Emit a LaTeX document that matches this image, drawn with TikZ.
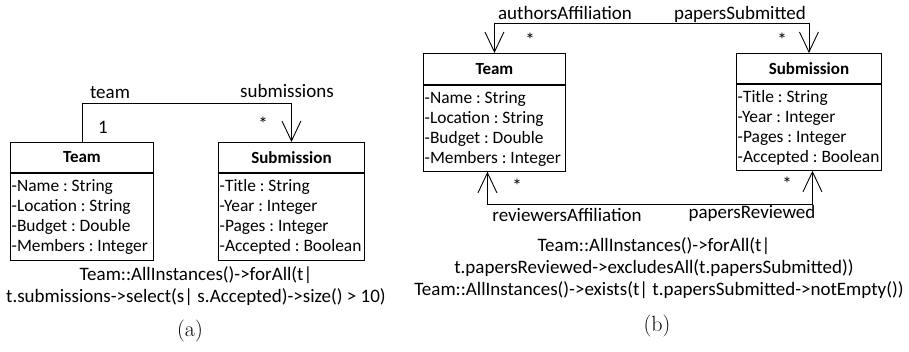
\documentclass[tikz,border=0pt]{standalone}
\usepackage{fontspec}
\newfontfamily\uml{Carlito}
\frenchspacing
\usetikzlibrary{arrows.meta,positioning}
\tikzset{
  umltext/.style={font=\uml\fontsize{19}{22}\selectfont},
  classhead/.style={draw, line width=0.9pt, anchor=north west, inner sep=0pt,
    font=\uml\bfseries\fontsize{17}{20}\selectfont},
  classbody/.style={draw, line width=0.9pt, anchor=north, inner sep=0pt},
  attrs/.style={anchor=north west, inner sep=0pt, align=left,
    font=\uml\fontsize{17.4}{20}\selectfont},
  assoc/.style={line width=0.9pt},
  nav/.style={-{Straight Barb[length=20pt,width=19pt]}},
  bothnav/.style={{Straight Barb[length=20pt,width=19pt]}-{Straight Barb[length=20pt,width=19pt]}},
  lbl/.style={umltext, inner sep=0pt},
  ocl/.style={umltext, inner sep=0pt, align=center},
  caption/.style={font=\fontsize{22}{26}\selectfont, inner sep=0pt}
}
\begin{document}
\begin{tikzpicture}[x=1pt,y=-1pt]
\useasboundingbox (0,0) rectangle (909,351);

% ---------- (a) ----------
\node[classhead, minimum width=143pt, minimum height=30pt] (teamA) at (10,142) {Team};
\node[classbody, below=0pt of teamA.south, minimum width=143pt, minimum height=87pt] (teamAbody) {};
\node[attrs] (teamAattr) at ([xshift=1.5pt,yshift=-4pt]teamAbody.north west)
  {\strut-Name : String\\-Location : String\\-Budget : Double\\-Members : Integer};
\node[classhead, minimum width=146pt, minimum height=30pt] (subA) at (218,142) {Submission};
\node[classbody, below=0pt of subA.south, minimum width=146pt, minimum height=87pt] (subAbody) {};
\node[attrs] (subAattr) at ([xshift=1.5pt,yshift=-4pt]subAbody.north west)
  {\strut-Title : String\\-Year : Integer\\-Pages : Integer\\-Accepted : Boolean};

\coordinate (rowA) at (0,103);
\draw[assoc, nav] (teamA.north) -- (teamA.north |- rowA) -| (subA.north);
\node[lbl] (teamRole) at (110,93) {team};
\node[lbl] (subRole) at (287,91) {submissions};
\node[lbl] (mulA1) at (103,127) {1};
\node[lbl] (mulA2) at (263,124) {*};

\node[ocl] (oclA) at (196,286) {Team::AllInstances()->forAll(t|\\t.submissions->select(s| s.Accepted)->size() > 10)};
\node[caption] (capA) at (190,331) {(a)};

% ---------- (b) ----------
\node[classhead, minimum width=142pt, minimum height=31pt] (teamB) at (423,53) {Team};
\node[classbody, below=0pt of teamB.south, minimum width=142pt, minimum height=86pt] (teamBbody) {};
\node[attrs] (teamBattr) at ([xshift=1.5pt,yshift=-4pt]teamBbody.north west)
  {\strut-Name : String\\-Location : String\\-Budget : Double\\-Members : Integer};
\node[classhead, minimum width=145pt, minimum height=30pt] (subB) at (736,53) {Submission};
\node[classbody, below=0pt of subB.south, minimum width=145pt, minimum height=86pt] (subBbody) {};
\node[attrs] (subBattr) at ([xshift=1.5pt,yshift=-4pt]subBbody.north west)
  {\strut-Title : String\\-Year : Integer\\-Pages : Integer\\-Accepted : Boolean};

% authorship association (top)
\coordinate (rowTop) at (0,23);
\draw[assoc, bothnav] (teamB.north) -- (teamB.north |- rowTop) -| (subB.north);
\node[lbl] (authRole) at (565,13) {authorsAffiliation};
\node[lbl] (papSubRole) at (740,14) {papersSubmitted};
\node[lbl] (mulB1) at (530,40) {*};
\node[lbl] (mulB2) at (782,40) {*};

% reviewing association (bottom)
\coordinate (tBot) at ([xshift=-7pt]teamBbody.south);
\coordinate (sBot) at ([xshift=3.5pt]subBbody.south);
\coordinate (rowBot) at (0,204);
\draw[assoc, bothnav] (tBot) -- (tBot |- rowBot) -| (sBot);
\node[lbl] (revRole) at (567,215) {reviewersAffiliation};
\node[lbl] (papRevRole) at (752,213) {papersReviewed};
\node[lbl] (mulB3) at (517,186) {*};
\node[lbl] (mulB4) at (787,184) {*};

\node[ocl] (oclB1) at (654,257.5) {Team::AllInstances()->forAll(t|\\t.papersReviewed->excludesAll(t.papersSubmitted))};
\node[ocl] (oclB2) at (659,290) {Team::AllInstances()->exists(t| t.papersSubmitted->notEmpty())};
\node[caption] (capB) at (657,326) {(b)};
\end{tikzpicture}
\end{document}
